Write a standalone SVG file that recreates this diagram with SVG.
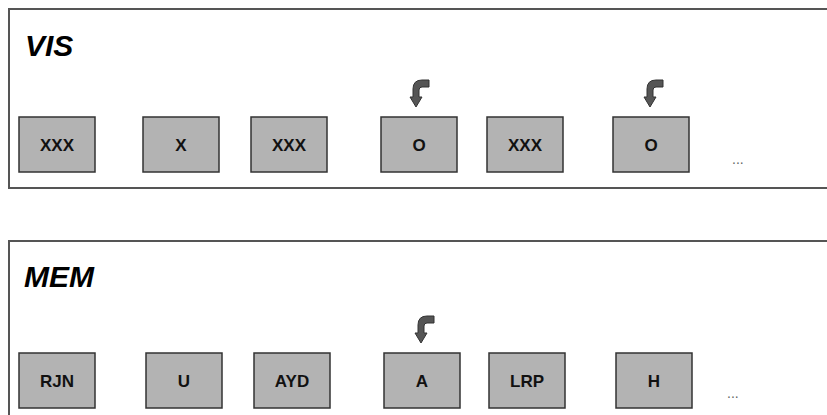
<svg xmlns="http://www.w3.org/2000/svg" width="827" height="415" viewBox="0 0 827 415">
<style>
.panel{fill:#fff;stroke:#555;stroke-width:2}
.box{fill:#b3b3b3;stroke:#333;stroke-width:1.5}
.title{font-family:"Liberation Sans",Arial,sans-serif;font-weight:bold;font-style:italic;font-size:30px;fill:#000}
.lbl{font-family:"Liberation Sans",Arial,sans-serif;font-weight:bold;font-size:17px;fill:#111;text-anchor:middle}
.dots{font-family:"Liberation Sans",Arial,sans-serif;font-size:14px;fill:#666}
.arr{fill:#555;stroke:#333;stroke-width:1;stroke-linejoin:round}
</style>
<defs>
<path id="curl" class="arr" d="M -3,-10 V -18 Q -3,-27 6,-27 H 13 V -20 H 6 Q 3,-20 3,-17 V -10 H 6 L 0,0 L -6,-10 Z"/>
</defs>
<rect x="0" y="0" width="827" height="415" fill="#fff"/>
<g id="panel-vis">
<rect class="panel" x="9" y="9" width="830" height="179"/>
<text class="title" x="25" y="56">VIS</text>
</g>
<g id="panel-mem">
<rect class="panel" x="9" y="241" width="830" height="190"/>
<text class="title" x="24" y="287">MEM</text>
</g>
<g id="v1"><rect class="box" x="19" y="117" width="76" height="55"/><text class="lbl" x="57" y="151">XXX</text></g>
<g id="v2"><rect class="box" x="143" y="117" width="76" height="55"/><text class="lbl" x="181" y="151">X</text></g>
<g id="v3"><rect class="box" x="251" y="117" width="76" height="55"/><text class="lbl" x="289" y="151">XXX</text></g>
<g id="v4"><rect class="box" x="381" y="117" width="76" height="55"/><text class="lbl" x="419" y="151">O</text></g>
<g id="v5"><rect class="box" x="487" y="117" width="76" height="55"/><text class="lbl" x="525" y="151">XXX</text></g>
<g id="v6"><rect class="box" x="613" y="117" width="76" height="55"/><text class="lbl" x="651" y="151">O</text></g>
<g id="vdots"><text class="dots" x="732" y="164">...</text></g>
<g id="m1"><rect class="box" x="19" y="353" width="76" height="55"/><text class="lbl" x="57" y="387">RJN</text></g>
<g id="m2"><rect class="box" x="146" y="353" width="76" height="55"/><text class="lbl" x="184" y="387">U</text></g>
<g id="m3"><rect class="box" x="254" y="353" width="76" height="55"/><text class="lbl" x="292" y="387">AYD</text></g>
<g id="m4"><rect class="box" x="384" y="353" width="76" height="55"/><text class="lbl" x="422" y="387">A</text></g>
<g id="m5"><rect class="box" x="489" y="353" width="76" height="55"/><text class="lbl" x="527" y="387">LRP</text></g>
<g id="m6"><rect class="box" x="616" y="353" width="76" height="55"/><text class="lbl" x="654" y="387">H</text></g>
<g id="mdots"><text class="dots" x="727" y="398">...</text></g>
<g id="connectors">
<use href="#curl" transform="translate(416,107)"/>
<use href="#curl" transform="translate(650,107)"/>
<use href="#curl" transform="translate(421,343)"/>
</g>
</svg>
